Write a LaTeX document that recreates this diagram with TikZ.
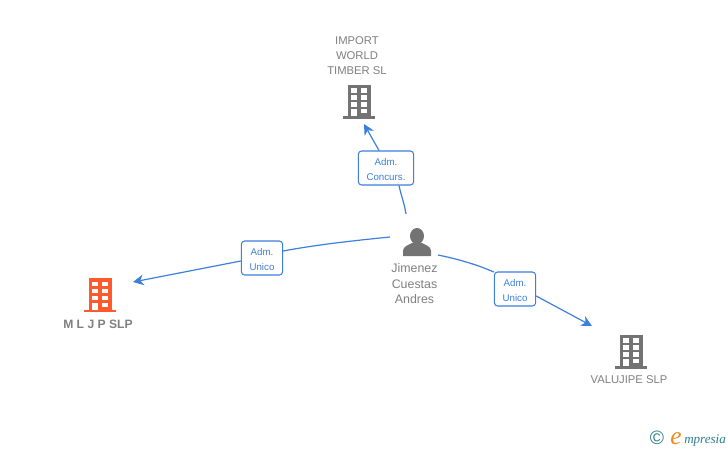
\documentclass[tikz,border=0pt]{standalone}
\usepackage{fontspec}
\setmainfont{Liberation Sans}
\newfontfamily\logofont{Liberation Serif}
\usetikzlibrary{arrows.meta}
\definecolor{iconGray}{HTML}{737373}
\definecolor{iconRed}{HTML}{FF5A2D}
\definecolor{textGray}{HTML}{808080}
\definecolor{linkBlue}{HTML}{3E7FDD}
\definecolor{logoTeal}{HTML}{2F7F8F}
\definecolor{logoOrange}{HTML}{F08A1D}
\newcommand{\toppad}{\rule{0pt}{7pt}}
\tikzset{
  x=0.75pt,y=-0.75pt,
  anchorbox/.style={inner sep=0pt,minimum width=22.5pt,minimum height=26pt},
  caption/.style={font=\fontsize{8.45pt}{11.25pt}\selectfont,text=textGray,align=center,inner sep=0pt},
  linklabel/.style={draw=linkBlue,line width=0.8pt,rounded corners=2.5pt,fill=white,
    text=linkBlue,font=\fontsize{7.3pt}{11.25pt}\selectfont,align=center,inner sep=0pt},
  link/.style={draw=linkBlue,line width=0.9pt},
  tip/.style={-{Stealth[length=8pt,width=8pt,inset=2.5pt]}},
  pics/building/.style={code={
    \fill[#1] (-11.5,-17) rectangle (11.5,15);
    \fill[#1] (-16,14.5) rectangle (16,17);
    \foreach \cx in {-5,5}\foreach \cy in {-11,-4,3}
      \fill[white] (\cx-2.75,\cy-2.2) rectangle (\cx+2.75,\cy+2.2);
    \fill[white] (2.25,7.5) rectangle (7.75,11.5);
    \fill[white] (-7.75,7.5) rectangle (-2.25,14.5);
  }},
}
\begin{document}
\begin{tikzpicture}
\useasboundingbox (0,0) rectangle (728,450);
\fill[white] (0,0) rectangle (728,450);

% buildings
\node[anchorbox] (bImport) at (359,101.5) {};
\pic at (bImport.center) {building=iconGray};
\node[anchorbox] (bMljp) at (100,295) {};
\pic at (bMljp.center) {building=iconRed};
\node[anchorbox] (bValu) at (631,351.5) {};
\pic at (bValu.center) {building=iconGray};

% person
\node[anchorbox,minimum width=21pt,minimum height=21pt] (person) at (417,242) {};
\fill[iconGray] (403,256) -- (403,251) .. controls (403,246) and (409,245) .. (413,242.5)
  -- (421,242.5) .. controls (425,245) and (431,246) .. (431,251) -- (431,256) -- cycle;
\fill[iconGray] (417,236) ellipse (7 and 8);

% captions
\node[caption] (tImport) at (357,56) {IMPORT\\WORLD\\TIMBER SL};
\node[caption,font=\fontsize{9.1pt}{11.25pt}\selectfont\bfseries] (tMljp) at (98,324) {M L J P SLP};
\node[caption] (tValu) at (629,380) {VALUJIPE SLP};
\node[caption,font=\fontsize{9.3pt}{11.6pt}\selectfont] (tPerson) at (414.5,284) {Jimenez\\Cuestas\\Andres};

% link labels
\node[linklabel,minimum width=41.5pt,minimum height=25.5pt] (lConc) at (386,168) {\toppad Adm.\\Concurs.};
\node[linklabel,minimum width=31pt,minimum height=25.5pt] (lMljp) at (262,258) {\toppad Adm.\\Unico};
\node[linklabel,minimum width=31pt,minimum height=25.5pt] (lValu) at (515,289) {\toppad Adm.\\Unico};

% connector ends
\coordinate (sConc) at (406,214);
\coordinate (eConc) at (364,124);
\coordinate (sMljp) at (390,237);
\coordinate (eMljp) at (133,282);
\coordinate (sValu) at (438,255);
\coordinate (eValu) at (592,326);

% connectors
\draw[link] (sConc) .. controls (404,202) and (401,195) .. (lConc.south -| 399,0);
\draw[link,tip] (lConc.north -| 379,0) -- (eConc);
\draw[link] (sMljp) .. controls (350,241) and (315,245) .. (lMljp.east |- 0,251);
\draw[link,tip] (lMljp.west |- 0,261) -- (eMljp);
\draw[link] (sValu) .. controls (458,259) and (478,265) .. (lValu.west |- 0,272);
\draw[link,tip] (lValu.east |- 0,296) -- (eValu);

% logo
\node[inner sep=0pt,text=logoTeal,font=\fontsize{14.5pt}{16pt}\selectfont] (copyr) at (657,438) {©};
\node[inner sep=0pt,anchor=base west,text=logoOrange,font=\logofont\itshape\fontsize{19pt}{20pt}\selectfont] (logoE) at (670,444) {e};
\node[inner sep=0pt,anchor=base west,text=logoTeal,font=\logofont\itshape\fontsize{9.8pt}{11pt}\selectfont] (logoT) at (684,443) {mpresia};
\end{tikzpicture}
\end{document}
